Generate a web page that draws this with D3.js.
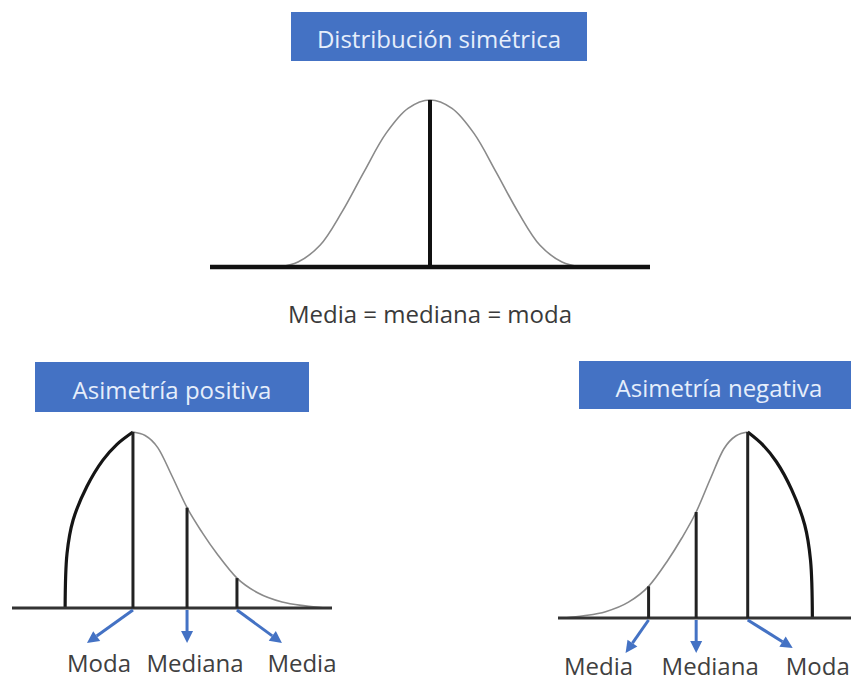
<!DOCTYPE html>
<html>
<head>
<meta charset="utf-8">
<script src="https://cdn.jsdelivr.net/npm/d3@7"></script>
<style>
  body { margin: 0; background: #fff; overflow: hidden; }
  text { font-family: "Open Sans", sans-serif; }
</style>
</head>
<body>
<div id="chart"></div>
<script>

// texts
const titles = ["Distribución simétrica", "Asimetría positiva", "Asimetría negativa"];
const symCaption = "Media = mediana = moda";
const measureLabels = ["Moda", "Mediana", "Media"];

// symmetric curve: x in sigma units, y relative height
const symX = [-2.75, -2.4, -2.0, -1.6, -1.2, -0.8, -0.4, 0, 0.4, 0.8, 1.2, 1.6, 2.0, 2.4, 2.75];
const symY = [0, 0.03, 0.13, 0.33, 0.57, 0.80, 0.95, 1, 0.95, 0.80, 0.57, 0.33, 0.13, 0.03, 0];

// skewed curve (axis 0..10): short steep side (drawn thick)
const riseX = [1.66, 1.72, 1.91, 2.34, 2.84, 3.28, 3.78];
const riseY = [0, 0.31, 0.50, 0.69, 0.84, 0.93, 1];

// skewed curve: long tail side (drawn thin)
const tailX = [3.78, 4.16, 4.56, 5.0, 5.47, 5.94, 6.44, 7.03, 7.69, 8.44, 9.16, 9.78];
const tailY = [1, 0.98, 0.91, 0.75, 0.57, 0.43, 0.30, 0.17, 0.085, 0.034, 0.012, 0];

// moda, mediana, media on the skewed axis + curve height there
const measureX = [3.78, 5.47, 7.03];
const measureY = [1, 0.57, 0.17];

const blue = "#4472c4";

let svg = d3.select("#chart")
  .append("svg")
  .attr("width", 851)
  .attr("height", 682);

// helper: blue title box
function titleBox(x, y, w, h, label, baseline) {
  svg.append("rect")
    .attr("x", x).attr("y", y)
    .attr("width", w).attr("height", h)
    .attr("fill", blue);
  svg.append("text")
    .attr("x", x + w / 2)
    .attr("y", baseline)
    .attr("text-anchor", "middle")
    .attr("font-size", 24)
    .attr("fill", "#e6eefb")
    .text(label);
}

// helper: arrow with triangular head
function arrow(x1, y1, x2, y2) {
  let ang = Math.atan2(y2 - y1, x2 - x1);
  let len = 12, half = 6;
  let bx = x2 - len * Math.cos(ang), by = y2 - len * Math.sin(ang);
  svg.append("line")
    .attr("x1", x1).attr("y1", y1)
    .attr("x2", bx).attr("y2", by)
    .attr("stroke", blue)
    .attr("stroke-width", 3);
  svg.append("path")
    .attr("d", `M${x2},${y2}L${bx - half * Math.sin(ang)},${by + half * Math.cos(ang)}L${bx + half * Math.sin(ang)},${by - half * Math.cos(ang)}Z`)
    .attr("fill", blue);
}

/* ---------- top: symmetric ---------- */
let xs = d3.scaleLinear().domain([-4, 4]).range([210, 650]);
let ys = d3.scaleLinear().domain([0, 1]).range([267, 100]);

titleBox(291, 12, 296, 49, titles[0], 48);

let symLine = d3.line()
  .x((d, i) => xs(symX[i]))
  .y(d => ys(d))
  .curve(d3.curveCatmullRom.alpha(0.5));

svg.append("path")
  .attr("d", symLine(symY))
  .attr("fill", "none")
  .attr("stroke", "#8a8a8a")
  .attr("stroke-width", 1.6);

svg.append("line")
  .attr("x1", xs(0)).attr("x2", xs(0))
  .attr("y1", ys(0)).attr("y2", ys(1))
  .attr("stroke", "#111")
  .attr("stroke-width", 4);

svg.append("line")
  .attr("x1", xs(-4)).attr("x2", xs(4))
  .attr("y1", ys(0)).attr("y2", ys(0))
  .attr("stroke", "#111")
  .attr("stroke-width", 4.5);

svg.append("text")
  .attr("x", xs(0))
  .attr("y", 323)
  .attr("text-anchor", "middle")
  .attr("font-size", 24)
  .attr("fill", "#3a3a3a")
  .text(symCaption);

/* ---------- bottom: skewed panels ---------- */
// right panel is the mirror image of the left one (reversed x range)
let panels = [
  { title: titles[1], box: [35, 362, 274, 50], titleY: 399,
    x: d3.scaleLinear().domain([0, 10]).range([12, 332]),
    y: d3.scaleLinear().domain([0, 1]).range([608, 432]),
    arrowEnd: [[-46, 35], [0, 35], [45, 35]],
    labelDx: [12, 8, 20], labelY: 672 },
  { title: titles[2], box: [579, 361, 280, 48], titleY: 397,
    x: d3.scaleLinear().domain([0, 10]).range([863, 558]),
    y: d3.scaleLinear().domain([0, 1]).range([618, 432]),
    arrowEnd: [[45, 30], [0, 35], [-23, 35]],
    labelDx: [25, 14, -27], labelY: 675 }
];

panels.forEach(p => {
  titleBox(p.box[0], p.box[1], p.box[2], p.box[3], p.title, p.titleY);

  let line = (xArr, curve) => d3.line()
    .x((d, i) => p.x(xArr[i]))
    .y(d => p.y(d))
    .curve(curve);

  // thin tail
  svg.append("path")
    .attr("d", line(tailX, d3.curveMonotoneX)(tailY))
    .attr("fill", "none")
    .attr("stroke", "#8a8a8a")
    .attr("stroke-width", 1.6);

  // thick steep side
  svg.append("path")
    .attr("d", line(riseX, d3.curveCatmullRom.alpha(0.5))(riseY))
    .attr("fill", "none")
    .attr("stroke", "#151515")
    .attr("stroke-width", 3.2);

  // baseline
  svg.append("line")
    .attr("x1", p.x(0)).attr("x2", p.x(10))
    .attr("y1", p.y(0)).attr("y2", p.y(0))
    .attr("stroke", "#333")
    .attr("stroke-width", 3);

  // measure lines, arrows and labels
  measureX.forEach((m, i) => {
    let x0 = p.x(m), y0 = p.y(0);
    svg.append("line")
      .attr("x1", x0).attr("x2", x0)
      .attr("y1", y0).attr("y2", p.y(measureY[i]))
      .attr("stroke", "#222")
      .attr("stroke-width", 3);

    let ex = x0 + p.arrowEnd[i][0], ey = y0 + p.arrowEnd[i][1];
    arrow(x0, y0 + 2, ex, ey);

    svg.append("text")
      .attr("x", ex + p.labelDx[i])
      .attr("y", p.labelY)
      .attr("text-anchor", "middle")
      .attr("font-size", 24)
      .attr("fill", "#404040")
      .text(measureLabels[i]);
  });
});

</script>
</body>
</html>
